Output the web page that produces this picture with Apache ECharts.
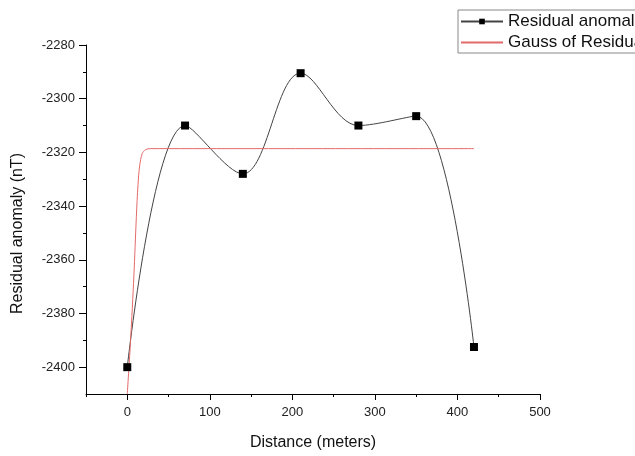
<!DOCTYPE html>
<html>
<head>
<meta charset="utf-8">
<script src="https://cdn.jsdelivr.net/npm/echarts@6/dist/echarts.min.js"></script>
<style>
  html, body { margin: 0; padding: 0; background: #fff; }
  #main { width: 635px; height: 456px; }
</style>
</head>
<body>
<div id="main"></div>
<script>
// measured anomaly
const distance = [0, 70, 140, 210, 280, 350, 420]
const residual = [-2400, -2310, -2328, -2290.5, -2310, -2306.5, -2392.5]

// gauss fit curve
const gaussX = [0, 4, 8, 11, 13, 15, 18, 22, 28, 420]
const gaussY = [-2410, -2390, -2366, -2344, -2332, -2325, -2320.5, -2319, -2318.6, -2318.6]

// ticks
const xMajor = [0, 100, 200, 300, 400, 500]
const xMinor = [-50, 50, 150, 250, 350, 450]
const yMajor = [-2400, -2380, -2360, -2340, -2320, -2300, -2280]
const yMinor = [-2390, -2370, -2350, -2330, -2310, -2290]

const font = 'Liberation Sans, Arial, sans-serif'
const red = '#e36a6a'

const baseX = {
  type: 'value', min: -50, max: 500, position: 'bottom',
  splitLine: { show: false }
}
const baseY = {
  type: 'value', min: -2410, max: -2280, position: 'left',
  splitLine: { show: false }
}

const option = {
  animation: false,
  backgroundColor: '#fff',
  grid: { left: 86, top: 45, right: 95, bottom: 58, containLabel: false },
  legend: {
    orient: 'vertical',
    left: 458,
    top: 10,
    padding: [3, 4, 2, 2],
    itemGap: 4,
    itemWidth: 42,
    itemHeight: 7,
    borderColor: '#888',
    borderWidth: 1,
    textStyle: { fontSize: 17, color: '#111', fontFamily: font },
    data: [
      'Residual anomaly',
      { name: 'Gauss of Residual anomaly', itemStyle: { opacity: 0 } }
    ]
  },
  xAxis: [
    Object.assign({}, baseX, {
      name: 'Distance (meters)',
      nameLocation: 'middle',
      nameGap: 41,
      nameTextStyle: { fontSize: 16, color: '#111', fontFamily: font },
      axisLine: { onZero: false, lineStyle: { color: '#000', width: 1 } },
      axisTick: { customValues: xMajor, length: 6, lineStyle: { color: '#000' } },
      axisLabel: { customValues: xMajor, fontSize: 13, color: '#222', fontFamily: font, margin: 12,
        formatter: v => String(v) }
    }),
    Object.assign({}, baseX, {
      axisLine: { show: false, onZero: false },
      axisTick: { customValues: xMinor, length: 3, lineStyle: { color: '#000' } },
      axisLabel: { show: false }
    })
  ],
  yAxis: [
    Object.assign({}, baseY, {
      name: 'Residual anomaly (nT)',
      nameLocation: 'middle',
      nameGap: 60,
      nameTextStyle: { fontSize: 16, color: '#111', fontFamily: font, padding: [0, 28, 0, 0] },
      axisLine: { show: true, onZero: false, lineStyle: { color: '#000', width: 1 } },
      axisTick: { customValues: yMajor, length: 7, lineStyle: { color: '#000' } },
      axisLabel: { customValues: yMajor, fontSize: 13, color: '#222', fontFamily: font, margin: 11,
        formatter: v => String(v) }
    }),
    Object.assign({}, baseY, {
      axisLine: { show: false, onZero: false },
      axisTick: { customValues: yMinor, length: 3, lineStyle: { color: '#000' } },
      axisLabel: { show: false }
    })
  ],
  series: [
    {
      name: 'Residual anomaly',
      type: 'line',
      smooth: 0.35,
      symbol: 'rect',
      symbolSize: 8,
      itemStyle: { color: '#000' },
      lineStyle: { color: '#444', width: 1 },
      data: distance.map((d, i) => [d, residual[i]])
    },
    {
      name: 'Gauss of Residual anomaly',
      type: 'line',
      smooth: 0.3,
      symbol: 'none',
      itemStyle: { color: red },
      lineStyle: { color: red, width: 1 },
      data: gaussX.map((d, i) => [d, gaussY[i]])
    }
  ]
}

const chart = echarts.init(document.getElementById('main'))
chart.setOption(option)
</script>
</body>
</html>
